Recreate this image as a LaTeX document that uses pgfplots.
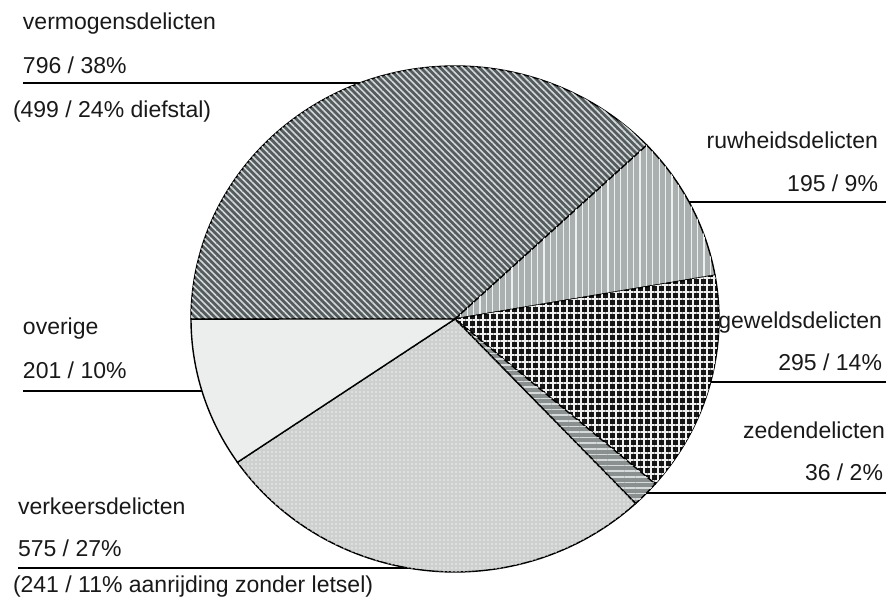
\documentclass[border=0pt]{standalone}
\usepackage{pgfplots}
\pgfplotsset{compat=1.18}
\usepackage{pgfplotstable}
\usetikzlibrary{patterns.meta}
\usepackage{fontspec}
\setmainfont{Liberation Sans}

\definecolor{cVerm}{RGB}{84,92,94}
\definecolor{cVermL}{RGB}{212,216,216}
\definecolor{cRuw}{RGB}{170,175,175}
\definecolor{cRuwL}{RGB}{238,240,240}
\definecolor{cGew}{RGB}{22,22,22}
\definecolor{cGewL}{RGB}{240,240,240}
\definecolor{cZed}{RGB}{138,144,144}
\definecolor{cZedL}{RGB}{215,218,218}
\definecolor{cVerk}{RGB}{206,208,208}
\definecolor{cVerkL}{RGB}{238,240,240}
\definecolor{cOv}{RGB}{236,237,237}
\definecolor{cTxt}{RGB}{25,25,25}

\tikzset{lbl/.style={font=\fontsize{11.5}{13}\selectfont, text=cTxt, inner sep=0pt, outer sep=0pt}}

\pgfplotstableread{
label value
vermogensdelicten 796
ruwheidsdelicten 195
geweldsdelicten 295
zedendelicten 36
verkeersdelicten 575
overige 201
}\piedata

\newcommand\slice[3]{\draw[line width=0.7pt, #3] (axis cs:0,0) -- (axis cs:{cos(#1)},{sin(#1)}) arc[start angle=#1, end angle=#2, x radius=132pt, y radius=126.5pt] -- cycle;}

\begin{document}
\begin{tikzpicture}
\pgfplotstablegetelem{0}{value}\of\piedata\edef\vA{\pgfplotsretval}
\pgfplotstablegetelem{1}{value}\of\piedata\edef\vB{\pgfplotsretval}
\pgfplotstablegetelem{2}{value}\of\piedata\edef\vC{\pgfplotsretval}
\pgfplotstablegetelem{3}{value}\of\piedata\edef\vD{\pgfplotsretval}
\pgfplotstablegetelem{4}{value}\of\piedata\edef\vE{\pgfplotsretval}
\pgfplotstablegetelem{5}{value}\of\piedata\edef\vF{\pgfplotsretval}
\pgfmathsetmacro\tot{\vA+\vB+\vC+\vD+\vE+\vF}
\pgfmathsetmacro\aA{180}
\pgfmathsetmacro\aB{\aA-360*(\vA/\tot)}
\pgfmathsetmacro\aC{\aB-360*(\vB/\tot)}
\pgfmathsetmacro\aD{\aC-360*(\vC/\tot)}
\pgfmathsetmacro\aE{\aD-360*(\vD/\tot)}
\pgfmathsetmacro\aF{\aE-360*(\vE/\tot)}
\pgfmathsetmacro\aG{\aF-360*(\vF/\tot)}
\begin{axis}[
  hide axis, clip=false,
  x=132pt, y=126.5pt,
  xmin=-1.7235, xmax=1.6402, ymin=-1.1107, ymax=1.2609,
]
\path (axis cs:-1.7235,-1.1107) rectangle (axis cs:1.6402,1.2609);
% leader lines (covered by the pie)
\draw[line width=0.6pt] (axis cs:-1.6364,0.9328) -- (axis cs:0,0.9328);
\draw[line width=0.6pt] (axis cs:1.6326,0.4625) -- (axis cs:0,0.4625);
\draw[line width=0.6pt] (axis cs:1.6326,-0.2490) -- (axis cs:0,-0.2490);
\draw[line width=0.6pt] (axis cs:1.6326,-0.6877) -- (axis cs:0,-0.6877);
\draw[line width=0.6pt] (axis cs:-1.6364,-0.2846) -- (axis cs:0,-0.2846);
\draw[line width=0.6pt] (axis cs:-1.6553,-0.9842) -- (axis cs:0,-0.9842);
% pie slices
\slice{\aA}{\aB}{fill=cVerm, postaction={pattern={Lines[angle=-45,distance=2.3pt,line width=0.8pt]}, pattern color=cVermL}}
\slice{\aB}{\aC}{fill=cRuw, postaction={pattern={Lines[angle=90,distance=3.2pt,line width=0.55pt]}, pattern color=cRuwL}}
\slice{\aC}{\aD}{fill=cGew, postaction={pattern={Hatch[angle=0,distance=3.5pt,line width=0.55pt]}, pattern color=cGewL}}
\slice{\aD}{\aE}{fill=cZed, postaction={pattern={Lines[angle=0,distance=2.8pt,line width=0.8pt]}, pattern color=cZedL}}
\slice{\aE}{\aF}{fill=cVerk, postaction={pattern={Dots[distance=2pt,radius=0.45pt]}, pattern color=cVerkL}}
\slice{\aF}{\aG}{fill=cOv}
% labels
\node[lbl, anchor=base west] at (axis cs:-1.6364,1.1462) {vermogensdelicten};
\node[lbl, anchor=base west] at (axis cs:-1.6364,0.9723) {796 / 38\%};
\node[lbl, anchor=base west] at (axis cs:-1.6742,0.7945) {(499 / 24\% diefstal)};
\node[lbl, anchor=base east] at (axis cs:1.6023,0.6759) {ruwheidsdelicten};
\node[lbl, anchor=base east] at (axis cs:1.6023,0.5020) {195 / 9\%};
\node[lbl, anchor=base east] at (axis cs:1.6174,-0.0356) {geweldsdelicten};
\node[lbl, anchor=base east] at (axis cs:1.6174,-0.2055) {295 / 14\%};
\node[lbl, anchor=base east] at (axis cs:1.6288,-0.4704) {zedendelicten};
\node[lbl, anchor=base east] at (axis cs:1.6212,-0.6364) {36 / 2\%};
\node[lbl, anchor=base west] at (axis cs:-1.6364,-0.0632) {overige};
\node[lbl, anchor=base west] at (axis cs:-1.6364,-0.2332) {201 / 10\%};
\node[lbl, anchor=base west] at (axis cs:-1.6553,-0.7708) {verkeersdelicten};
\node[lbl, anchor=base west] at (axis cs:-1.6553,-0.9407) {575 / 27\%};
\node[lbl, anchor=base west] at (axis cs:-1.6742,-1.0791) {(241 / 11\% aanrijding zonder letsel)};
\end{axis}
\end{tikzpicture}
\end{document}
